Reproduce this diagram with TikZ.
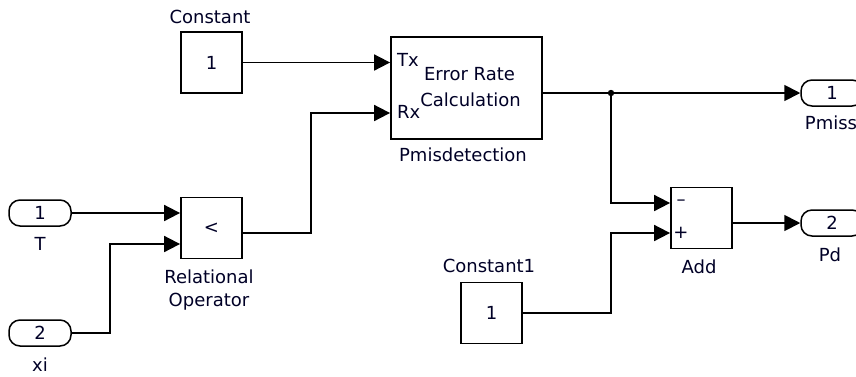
\documentclass[tikz,border=0pt]{standalone}
\usepackage{fontspec}
\setmainfont{DejaVu Sans}
\usetikzlibrary{arrows.meta}
\begin{document}
\begin{tikzpicture}[x=1pt,y=-1pt,
  every node/.style={font=\fontsize{18}{20}\selectfont, inner sep=0pt, text=black!85!blue},
  blk/.style={draw=black, line width=1.8pt, minimum width=61pt, minimum height=61pt},
  port/.style={draw=black, line width=1.5pt, rounded corners=11pt, minimum width=62pt, minimum height=26pt},
  wire/.style={line width=1.8pt},
  sig/.style={wire, -{Triangle[length=16pt,width=16pt]}}
]
\useasboundingbox (0,0) rectangle (856,376);

% blocks
\node[blk] (const) at (211.5,62.5) {1};
\node (constlbl) at (210,17) {Constant};
\node[blk] (rel) at (211.5,228) {<};
\node (rellbl1) at (209,277) {Relational};
\node (rellbl2) at (209,302) {Operator};
\node[port] (T) at (40,213) {1};
\node (Tlbl) at (40,244) {T};
\node[port] (xi) at (40,333) {2};
\node (xilbl) at (40,365) {xi};
\node[draw=black, line width=1.8pt, minimum width=151pt, minimum height=102pt] (err) at (466.5,88) {};
\node[anchor=west] (tx) at (397,60) {Tx};
\node[anchor=west] (rx) at (397,112) {Rx};
\node (errt1) at (469.5,74) {Error Rate};
\node (errt2) at (470.5,100) {Calculation};
\node (errlbl) at (463,155) {Pmisdetection};
\node[port] (pmiss) at (832,93) {1};
\node (pmisslbl) at (831,123) {Pmiss};
\node[blk] (add) at (701.5,218) {};
\node (minus) at (681,203) {–};
\node (plus) at (681,233) {+};
\node (addlbl) at (699,267) {Add};
\node[port] (pd) at (832,223) {2};
\node (pdlbl) at (830,255) {Pd};
\node[blk] (const1) at (491.5,313) {1};
\node (const1lbl) at (489,266) {Constant1};
\coordinate (junc) at (611,93);

% wires
\draw[sig] (const.east) -- (const.east -| err.west);
\draw[sig] (T.east) -- (T.east -| rel.west);
\draw[sig] (xi.east) -- (110,333) |- (rel.west |- 0,244);
\draw[sig] (rel.east |- 0,233) -- (311,233) |- (err.west |- 0,113);
\draw[sig] (err.east |- junc) -- (pmiss.west);
\fill (junc) circle (3.2pt);
\draw[sig] (junc) |- (add.west |- 0,203);
\draw[sig] (const1.east) -- (611,313) |- (add.west |- 0,233);
\draw[sig] (add.east |- pd.west) -- (pd.west);
\end{tikzpicture}
\end{document}
